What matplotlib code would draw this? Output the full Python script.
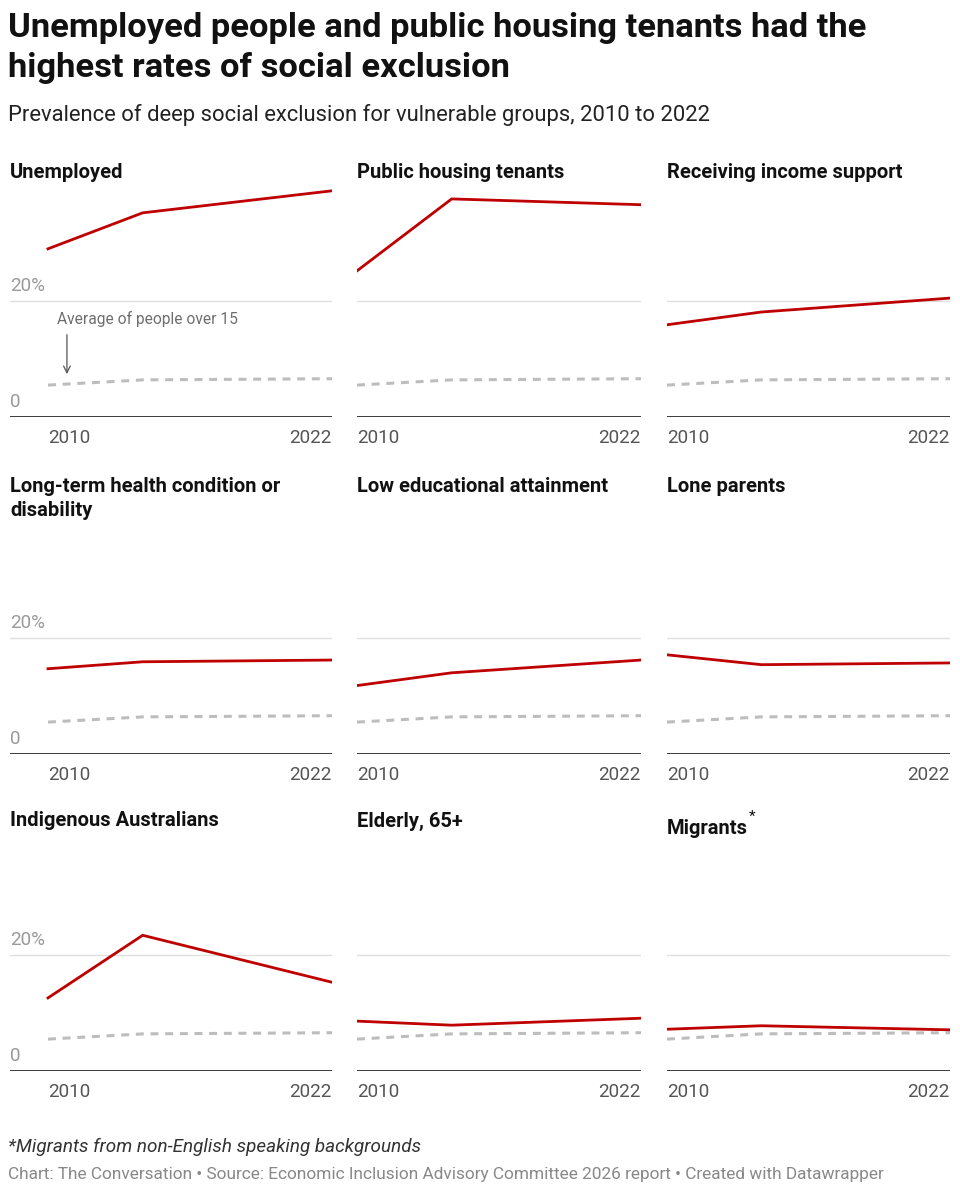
import matplotlib
matplotlib.use("Agg")
import matplotlib.pyplot as plt
from matplotlib import transforms

plt.rcParams['font.family'] = ['Roboto', 'DejaVu Sans']

# ---- data ----
years = [2010, 2014, 2022]
groups = [
    "Unemployed", "Public housing tenants", "Receiving income support",
    "Long-term health condition or\ndisability", "Low educational attainment", "Lone parents",
    "Indigenous Australians", "Elderly, 65+", "Migrants",
]
unemployed = [29.0, 35.2, 39.0]
public_housing = [25.2, 37.6, 36.6]
income_support = [15.9, 18.1, 20.5]
health_disability = [14.7, 15.9, 16.2]
low_education = [11.8, 14.0, 16.2]
lone_parents = [17.1, 15.4, 15.7]
indigenous = [12.6, 23.4, 15.3]
elderly = [8.6, 7.9, 9.1]
migrants = [7.2, 7.8, 7.1]
average_over_15 = [5.5, 6.4, 6.6]
series = [unemployed, public_housing, income_support, health_disability,
          low_education, lone_parents, indigenous, elderly, migrants]
y_ticks = [0, 20]
y_tick_labels = ["0", "20%"]
x_tick_labels = ["2010", "2022"]

W, H = 960, 1194
fig = plt.figure(figsize=(W / 100, H / 100), dpi=100)
renderer = fig.canvas.get_renderer()

def rect(x0, ytop, x1, ybot):
    return [x0 / W, 1 - ybot / H, (x1 - x0) / W, (ybot - ytop) / H]

RED = "#bf0000"
GREY_DASH = "#bdbdbd"

col_data = [(48, 332), (357, 641), (667, 950)]
col_axis_left = [10, 357, 667]
row_base = [417, 754, 1071]
row_title = [172, 485, 820]
px_per_unit = 5.8

fig.text(8 / W, 1 - 28 / H, "Unemployed people and public housing tenants had the",
         fontsize=24.8, fontweight='bold', va='center', ha='left', color='#111111')
fig.text(8 / W, 1 - 68 / H, "highest rates of social exclusion",
         fontsize=24.8, fontweight='bold', va='center', ha='left', color='#111111')
fig.text(8 / W, 1 - 115 / H,
         "Prevalence of deep social exclusion for vulnerable groups, 2010 to 2022",
         fontsize=15.8, va='center', ha='left', color='#222222')

TITLE_FS = 14.5

for i, (name, vals) in enumerate(zip(groups, series)):
    r, c = divmod(i, 3)
    dx0, dx1 = col_data[c]
    ax_left = col_axis_left[c]
    base = row_base[r]
    top = base - 40 * px_per_unit
    ax = fig.add_axes(rect(ax_left, top, dx1, base))
    span = years[-1] - years[0]
    xl = years[0] - (dx0 - ax_left) / (dx1 - dx0) * span
    ax.set_xlim(xl, years[-1])
    ax.set_ylim(0, 40)
    ax.axis('off')
    ax.axhline(20, color='#e0e0e0', lw=1.0, zorder=1)
    ax.axhline(0, color='#1a1a1a', lw=1.2, zorder=1)
    ax.plot(years, average_over_15, color=GREY_DASH, lw=2.2, ls=(0, (2.6, 2.2)), zorder=2,
            solid_capstyle='butt')
    ax.plot(years, vals, color=RED, lw=2.0, zorder=3, solid_joinstyle='miter')
    # x tick labels
    ax.annotate(x_tick_labels[0], xy=(years[0], 0), xytext=(0, -15), textcoords='offset points',
                ha='left', va='center', fontsize=13.6, color='#555555')
    ax.annotate(x_tick_labels[1], xy=(years[-1], 0), xytext=(0, -15), textcoords='offset points',
                ha='right', va='center', fontsize=13.6, color='#555555')
    if c == 0:
        trans = transforms.blended_transform_factory(ax.transAxes, ax.transData)
        for yv, lab in zip(y_ticks, y_tick_labels):
            ax.annotate(lab, xy=(0, yv), xycoords=trans, xytext=(0, 4), textcoords='offset points',
                        ha='left', va='bottom', fontsize=13.6, color='#9a9a9a')
    # panel title
    ty = row_title[r]
    if name == "Migrants":
        t = fig.text(ax_left / W, 1 - (ty + 8) / H, name, fontsize=TITLE_FS, fontweight='bold',
                     va='center', ha='left', color='#111111')
        bb = t.get_window_extent(renderer=renderer)
        fig.text((bb.x1 + 1) / W, 1 - (ty - 3) / H, "*", fontsize=11, va='center', ha='left',
                 color='#111111')
    else:
        lines = name.split("\n")
        for k, ln in enumerate(lines):
            fig.text(ax_left / W, 1 - (ty + 1 + 24 * k) / H, ln, fontsize=TITLE_FS,
                     fontweight='bold', va='center', ha='left', color='#111111')
    if i == 0:
        ax.text(2010.38, 16.9, "Average of people over 15", ha='left', va='center',
                fontsize=11.2, color='#6e6e6e')
        ax.annotate("", xy=(2010.8, 7.4), xytext=(2010.8, 14.2),
                    arrowprops=dict(arrowstyle='->', color='#555555', lw=0.9,
                                    shrinkA=0, shrinkB=0, mutation_scale=12),
                    annotation_clip=False)

fig.text(8 / W, 1 - 1147 / H, "*Migrants from non-English speaking backgrounds",
         fontsize=13.6, style='italic', va='center', ha='left', color='#333333')
fig.text(8 / W, 1 - 1175 / H,
         "Chart: The Conversation \u2022 Source: Economic Inclusion Advisory Committee 2026 report \u2022 Created with Datawrapper",
         fontsize=12.4, va='center', ha='left', color='#888888')

fig.savefig("out.png", dpi=100)
